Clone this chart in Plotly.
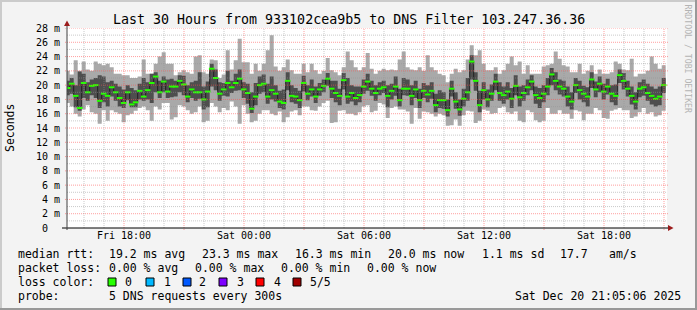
import plotly.graph_objects as go

# ---------------- data ----------------
START_H = 15.085   # Fri 15:05:06, hours since Fri 00:00
STEP_H = 0.2       # 12-minute columns

rtt_median = [
    19.6, 20.2, 18.5, 16.8, 20.3, 19.0, 19.9, 20.0, 17.8, 18.8,
    18.5, 19.7, 19.0, 18.2, 17.5, 19.0, 17.3, 17.6, 19.2, 18.4,
    19.3, 20.3, 21.2, 19.0, 20.5, 19.1, 19.8, 19.8, 20.6, 20.1,
    18.4, 19.4, 19.0, 19.0, 18.0, 19.1, 22.3, 21.0, 18.8, 19.4,
    20.3, 19.7, 20.3, 20.9, 19.4, 18.9, 16.7, 18.4, 20.0, 20.2,
    18.4, 19.3, 18.8, 17.7, 17.5, 20.6, 18.5, 18.4, 17.9, 20.3,
    18.8, 19.4, 18.4, 19.4, 19.9, 20.9, 19.5, 18.9, 18.5, 20.7,
    18.4, 18.9, 18.2, 18.6, 19.8, 20.5, 19.5, 18.9, 19.5, 19.7,
    18.5, 19.2, 19.8, 17.9, 19.5, 19.5, 18.5, 19.4, 17.9, 19.2,
    18.7, 19.2, 17.2, 17.9, 17.9, 16.5, 19.5, 17.7, 16.6, 18.1,
    19.0, 23.3, 20.6, 17.2, 19.3, 18.0, 18.8, 20.5, 18.9, 18.6,
    19.1, 18.1, 19.9, 18.3, 18.9, 19.7, 20.5, 18.6, 18.2, 18.8,
    19.8, 21.5, 20.6, 19.8, 19.5, 18.4, 17.7, 20.0, 19.3, 18.8,
    18.4, 20.8, 19.4, 20.2, 19.1, 19.8, 18.8, 18.5, 21.4, 20.6,
    19.5, 18.5, 17.7, 19.5, 19.7, 18.9, 18.5, 18.1, 18.4, 20.0,
]
rtt_max = [
    22.0, 21.5, 23.5, 22.0, 23.3, 22.2, 22.0, 23.3, 23.0, 22.8,
    23.0, 22.5, 21.6, 21.6, 21.4, 21.4, 21.0, 21.0, 21.2, 23.6,
    21.6, 21.6, 23.0, 24.0, 24.6, 23.0, 23.0, 21.4, 21.8, 22.1,
    21.8, 21.6, 24.0, 24.2, 21.8, 21.6, 23.6, 23.5, 21.0, 21.5,
    24.9, 22.2, 23.5, 26.5, 23.2, 23.2, 21.6, 23.0, 22.0, 23.0,
    24.9, 27.0, 22.6, 22.0, 22.5, 23.6, 22.1, 21.6, 21.6, 23.0,
    21.8, 23.0, 22.1, 21.6, 22.0, 23.8, 22.1, 21.8, 21.4, 22.5,
    24.7, 23.5, 22.5, 22.1, 22.5, 24.5, 22.3, 21.6, 22.0, 22.3,
    22.1, 22.2, 22.1, 23.6, 24.7, 22.5, 22.2, 22.1, 22.5, 22.0,
    24.2, 22.5, 22.1, 21.6, 21.4, 20.4, 21.6, 22.3, 21.8, 22.1,
    23.6, 25.6, 24.2, 24.9, 23.0, 22.1, 22.1, 22.5, 21.6, 22.1,
    23.0, 24.0, 22.8, 23.3, 21.6, 22.8, 21.6, 21.6, 21.6, 22.6,
    22.8, 23.0, 24.7, 23.7, 22.8, 22.6, 21.8, 21.8, 23.0, 21.6,
    22.0, 22.8, 21.6, 22.2, 21.6, 21.6, 21.8, 23.3, 23.0, 22.2,
    22.1, 23.7, 21.2, 21.6, 21.6, 22.0, 24.0, 23.0, 22.3, 22.8,
]
rtt_min = [
    17.5, 17.0, 16.0, 15.6, 16.6, 17.2, 16.2, 16.0, 14.6, 16.5,
    15.0, 16.5, 16.2, 16.0, 14.8, 15.8, 16.0, 16.4, 16.8, 17.0,
    16.5, 15.0, 17.0, 16.6, 17.5, 17.5, 15.2, 15.5, 17.2, 17.0,
    16.5, 16.0, 16.2, 17.0, 14.8, 15.0, 17.5, 17.0, 16.2, 16.8,
    16.5, 17.7, 17.0, 14.6, 17.2, 16.0, 14.8, 15.0, 16.0, 16.5,
    16.5, 16.0, 15.8, 16.3, 14.8, 15.5, 16.3, 16.5, 15.8, 17.0,
    17.0, 16.5, 16.4, 17.0, 17.5, 17.8, 14.7, 14.8, 16.4, 16.5,
    16.0, 16.0, 15.8, 16.2, 17.0, 17.2, 16.2, 16.4, 17.5, 17.3,
    15.4, 16.8, 17.0, 16.6, 16.6, 16.3, 14.6, 16.8, 15.3, 16.3,
    16.2, 16.0, 15.6, 16.0, 15.8, 14.3, 14.4, 15.2, 14.3, 15.8,
    16.4, 16.3, 14.7, 15.0, 16.6, 16.4, 16.0, 16.1, 16.8, 17.0,
    16.2, 16.0, 16.3, 15.0, 14.8, 16.5, 16.2, 15.1, 14.8, 15.0,
    16.8, 16.0, 16.0, 16.5, 16.0, 16.0, 15.3, 16.5, 16.3, 15.1,
    16.0, 16.0, 16.8, 16.5, 15.4, 15.3, 16.4, 16.6, 16.8, 16.5,
    16.5, 15.4, 15.6, 16.2, 16.8, 16.0, 16.2, 15.6, 15.8, 16.4,
]
rtt_inner_hi = [
    20.6, 21.0, 20.0, 21.9, 21.6, 20.4, 20.8, 21.0, 21.4, 21.2,
    20.4, 20.6, 20.2, 19.8, 19.4, 20.0, 19.6, 19.3, 20.2, 21.0,
    20.4, 21.6, 21.8, 20.6, 21.2, 20.8, 20.9, 20.6, 21.4, 21.3,
    20.0, 20.4, 20.6, 21.8, 19.8, 20.5, 23.0, 22.2, 20.4, 20.3,
    22.0, 20.6, 21.6, 22.2, 20.4, 20.2, 19.0, 20.3, 21.2, 21.5,
    20.2, 21.2, 20.0, 19.2, 19.4, 21.8, 20.0, 19.6, 19.2, 21.3,
    20.0, 20.8, 19.8, 20.3, 20.8, 21.7, 20.6, 20.6, 19.5, 21.7,
    21.0, 20.0, 19.8, 19.8, 20.8, 21.6, 20.6, 20.0, 20.4, 20.6,
    20.0, 20.2, 21.2, 19.5, 21.0, 20.8, 20.0, 20.6, 19.5, 20.3,
    20.0, 20.4, 18.8, 19.3, 19.0, 18.0, 20.6, 19.0, 18.0, 19.5,
    21.0, 24.2, 21.8, 19.2, 20.4, 19.4, 20.1, 21.6, 20.4, 19.8,
    20.4, 19.6, 21.4, 19.8, 20.0, 20.8, 21.4, 19.8, 19.6, 20.0,
    21.0, 22.4, 21.8, 20.8, 20.6, 19.8, 19.0, 21.0, 20.6, 19.9,
    19.7, 21.8, 20.5, 21.2, 20.2, 20.9, 20.0, 20.1, 22.2, 21.7,
    20.6, 19.8, 19.0, 20.4, 20.8, 20.2, 19.8, 19.5, 19.8, 21.0,
]
rtt_inner_lo = [
    18.6, 18.8, 16.9, 16.4, 18.2, 17.8, 18.6, 18.2, 16.8, 17.6,
    17.0, 18.4, 17.8, 17.0, 16.8, 17.9, 16.9, 16.9, 18.0, 17.8,
    18.0, 17.5, 19.0, 18.2, 19.0, 18.2, 18.3, 18.4, 19.0, 18.6,
    17.6, 18.2, 17.8, 18.1, 16.6, 16.9, 19.8, 19.3, 17.8, 18.5,
    18.4, 18.9, 19.2, 19.3, 18.2, 17.4, 16.1, 17.2, 18.8, 19.0,
    17.4, 18.0, 17.7, 16.8, 16.6, 19.3, 17.6, 17.4, 16.8, 19.1,
    17.9, 18.4, 17.5, 18.5, 19.0, 19.9, 18.2, 17.6, 17.2, 19.4,
    17.4, 17.7, 17.2, 17.6, 18.8, 19.2, 18.5, 17.8, 18.6, 18.9,
    16.9, 18.0, 18.5, 17.0, 18.6, 18.5, 17.2, 18.2, 16.8, 18.2,
    17.6, 18.1, 16.2, 16.8, 16.7, 15.6, 18.4, 16.7, 15.7, 17.0,
    17.8, 20.8, 19.2, 16.2, 18.0, 16.9, 17.8, 19.3, 17.8, 17.4,
    18.0, 16.8, 18.6, 17.0, 17.8, 18.6, 19.3, 17.4, 16.8, 17.6,
    18.6, 20.0, 19.3, 18.7, 18.4, 17.0, 16.6, 18.9, 18.0, 17.6,
    17.0, 19.6, 18.3, 19.0, 18.0, 18.7, 17.6, 17.2, 20.3, 19.4,
    18.4, 17.3, 16.6, 18.3, 18.5, 17.8, 17.3, 17.0, 17.2, 18.9,
]

x_tick_hours = [18, 24, 30, 36, 42]
x_tick_labels = ["Fri 18:00", "Sat 00:00", "Sat 06:00", "Sat 12:00", "Sat 18:00"]
y_tick_vals = list(range(0, 29, 2))
y_tick_labels = ["0\u00a0\u00a0"] + [f"{v} m" for v in range(2, 29, 2)]

loss_labels = ["0", "1", "2", "3", "4", "5/5"]
loss_colors = ["#26ff00", "#00b8ff", "#0059ff", "#7e00ff", "#ff0000", "#a00000"]

title_text = "Last 30 Hours from 933102cea9b5 to DNS Filter 103.247.36.36"

# ---------------- layout geometry ----------------
W, H = 697, 310
L, R, T, B = 67, 30, 28, 82
PW, PH = W - L - R, H - T - B
X0 = START_H + (L - 65.7) / 20.0
X1 = X0 + PW / 20.0

def pxp(x):
    return (x - L) / PW

def pyp(y):
    return (H - B - y) / PH

MONO = "DejaVu Sans Mono"
N = len(rtt_median)
x_edges = [START_H + STEP_H * i for i in range(N + 1)]
x_mid = [START_H + STEP_H * (i + 0.5) for i in range(N)]

def step(v):
    return list(v) + [v[-1]]

fig = go.Figure()
common = dict(mode="lines", hoverinfo="skip", showlegend=False)
fig.add_trace(go.Scatter(x=x_edges, y=step(rtt_min), line=dict(width=0, shape="hv"), **common))
fig.add_trace(go.Scatter(x=x_edges, y=step(rtt_max), line=dict(width=0, shape="hv"),
                         fill="tonexty", fillcolor="#a9a9a9", **common))
fig.add_trace(go.Scatter(x=x_edges, y=step(rtt_inner_lo), line=dict(width=0, shape="hv"), **common))
fig.add_trace(go.Scatter(x=x_edges, y=step(rtt_inner_hi), line=dict(width=0, shape="hv"),
                         fill="tonexty", fillcolor="#4e4e4e", **common))
# dark median line (its vertical steps show between the coloured median marks)
fig.add_trace(go.Scatter(x=x_edges, y=step(rtt_median), line=dict(width=1, shape="hv", color="#202020"),
                         **common))
fig.add_trace(go.Scatter(x=x_mid, y=rtt_median, mode="markers", hoverinfo="skip", showlegend=False,
                         marker=dict(symbol="line-ew", size=4,
                                     line=dict(width=2, color=loss_colors[0]))))

shapes = []
MAJ = "rgba(255,80,80,0.55)"
MIN = "rgba(150,150,150,0.5)"
DASH = "1px,1px"
# horizontal grid
for v in range(1, 29):
    if v % 2 == 0:
        shapes.append(dict(type="line", xref="paper", yref="y", x0=pxp(65), x1=pxp(669), y0=v, y1=v,
                           line=dict(color=MAJ, width=1, dash=DASH), layer="above"))
    else:
        shapes.append(dict(type="line", xref="paper", yref="y", x0=0, x1=1, y0=v, y1=v,
                           line=dict(color=MIN, width=1, dash=DASH), layer="above"))
# vertical grid
for h in range(16, 46):
    if h % 3 == 0:
        shapes.append(dict(type="line", xref="x", yref="paper", x0=h, x1=h, y0=pyp(230), y1=1,
                           line=dict(color=MAJ, width=1, dash=DASH), layer="above"))
    else:
        shapes.append(dict(type="line", xref="x", yref="paper", x0=h, x1=h, y0=0, y1=1,
                           line=dict(color=MIN, width=1, dash=DASH), layer="above"))

# axes + arrows
shapes.append(dict(type="line", xref="paper", yref="paper", x0=pxp(62), x1=pxp(669), y0=pyp(228), y1=pyp(228),
                   line=dict(color="#000000", width=1), layer="above"))
shapes.append(dict(type="line", xref="paper", yref="paper", x0=pxp(67), x1=pxp(67), y0=pyp(230), y1=pyp(24),
                   line=dict(color="#404040", width=1), layer="above"))
ARROW = "#9c1c1c"
shapes.append(dict(type="path", xref="paper", yref="paper",
                   path=f"M {pxp(64)},{pyp(26)} L {pxp(70)},{pyp(26)} L {pxp(67)},{pyp(20.5)} Z",
                   fillcolor=ARROW, line=dict(width=0), layer="above"))
shapes.append(dict(type="path", xref="paper", yref="paper",
                   path=f"M {pxp(668)},{pyp(225)} L {pxp(668)},{pyp(231)} L {pxp(673.5)},{pyp(228)} Z",
                   fillcolor=ARROW, line=dict(width=0), layer="above"))

# frame (3d border)
shapes += [
    dict(type="rect", xref="paper", yref="paper", x0=pxp(0), x1=pxp(W), y0=pyp(0), y1=pyp(2),
         fillcolor="#cbcbcb", line=dict(width=0), layer="above"),
    dict(type="rect", xref="paper", yref="paper", x0=pxp(0), x1=pxp(2), y0=pyp(0), y1=pyp(H),
         fillcolor="#cbcbcb", line=dict(width=0), layer="above"),
    dict(type="rect", xref="paper", yref="paper", x0=pxp(0), x1=pxp(W), y0=pyp(H - 2), y1=pyp(H),
         fillcolor="#999999", line=dict(width=0), layer="above"),
    dict(type="rect", xref="paper", yref="paper", x0=pxp(W - 2), x1=pxp(W), y0=pyp(0), y1=pyp(H),
         fillcolor="#999999", line=dict(width=0), layer="above"),
]

# loss colour boxes
box_x = [108, 146, 183, 219, 256, 293]
lab_x = [123, 162, 197, 235, 272, 308]
for bx, c in zip(box_x, loss_colors):
    shapes.append(dict(type="rect", xref="paper", yref="paper", x0=pxp(bx), x1=pxp(bx + 8),
                       y0=pyp(278), y1=pyp(286), fillcolor=c,
                       line=dict(color="#000000", width=1), layer="above"))

ann = []
def txt(s, x, y, size=11.5, anchor="left", color="#000000", angle=0):
    ann.append(dict(text=s, xref="paper", yref="paper", x=pxp(x), y=pyp(y), xanchor=anchor,
                    yanchor="middle", showarrow=False, textangle=angle,
                    font=dict(family=MONO, size=size, color=color)))

txt(title_text, 348.5, 19, size=13.3, anchor="center")
txt("Seconds", 10, 128, size=11.5, anchor="center", angle=-90)
txt("RRDTOOL / TOBI OETIKER", 687.5, 59, size=8.2, anchor="center", color="#b4b4b4", angle=90)

line1 = [("median rtt:", 16), ("19.2 ms avg", 107), ("23.3 ms max", 200), ("16.3 ms min", 293),
         ("20.0 ms now", 386), ("1.1 ms sd", 480), ("17.7", 558), ("am/s", 607)]
line2 = [("packet loss:", 16), ("0.00 % avg", 107), ("0.00 % max", 193), ("0.00 % min", 279),
         ("0.00 % now", 365)]
for s, x in line1:
    txt(s, x, 254)
for s, x in line2:
    txt(s, x, 268)
txt("loss color:", 16, 282)
for s, x in zip(loss_labels, lab_x):
    txt(s, x, 282)
txt("probe:", 16, 296)
txt("5 DNS requests every 300s", 107, 296)
txt("Sat Dec 20 21:05:06 2025", 513, 296)

fig.update_layout(
    width=W, height=H,
    margin=dict(l=L, r=R, t=T, b=B, pad=0),
    paper_bgcolor="#f3f3f3", plot_bgcolor="#ffffff",
    showlegend=False,
    shapes=shapes, annotations=ann,
    xaxis=dict(range=[X0, X1], tickmode="array", tickvals=x_tick_hours, ticktext=x_tick_labels,
               showgrid=False, zeroline=False, showline=False, ticks="",
               tickfont=dict(family=MONO, size=10, color="#000000"), fixedrange=True),
    yaxis=dict(range=[0, 28], tickmode="array", tickvals=y_tick_vals, ticktext=y_tick_labels,
               showgrid=False, zeroline=False, showline=False, ticks="outside", ticklen=4,
               tickcolor="rgba(0,0,0,0)",
               tickfont=dict(family=MONO, size=10, color="#000000"), fixedrange=True),
)

fig.write_html("out.html")
